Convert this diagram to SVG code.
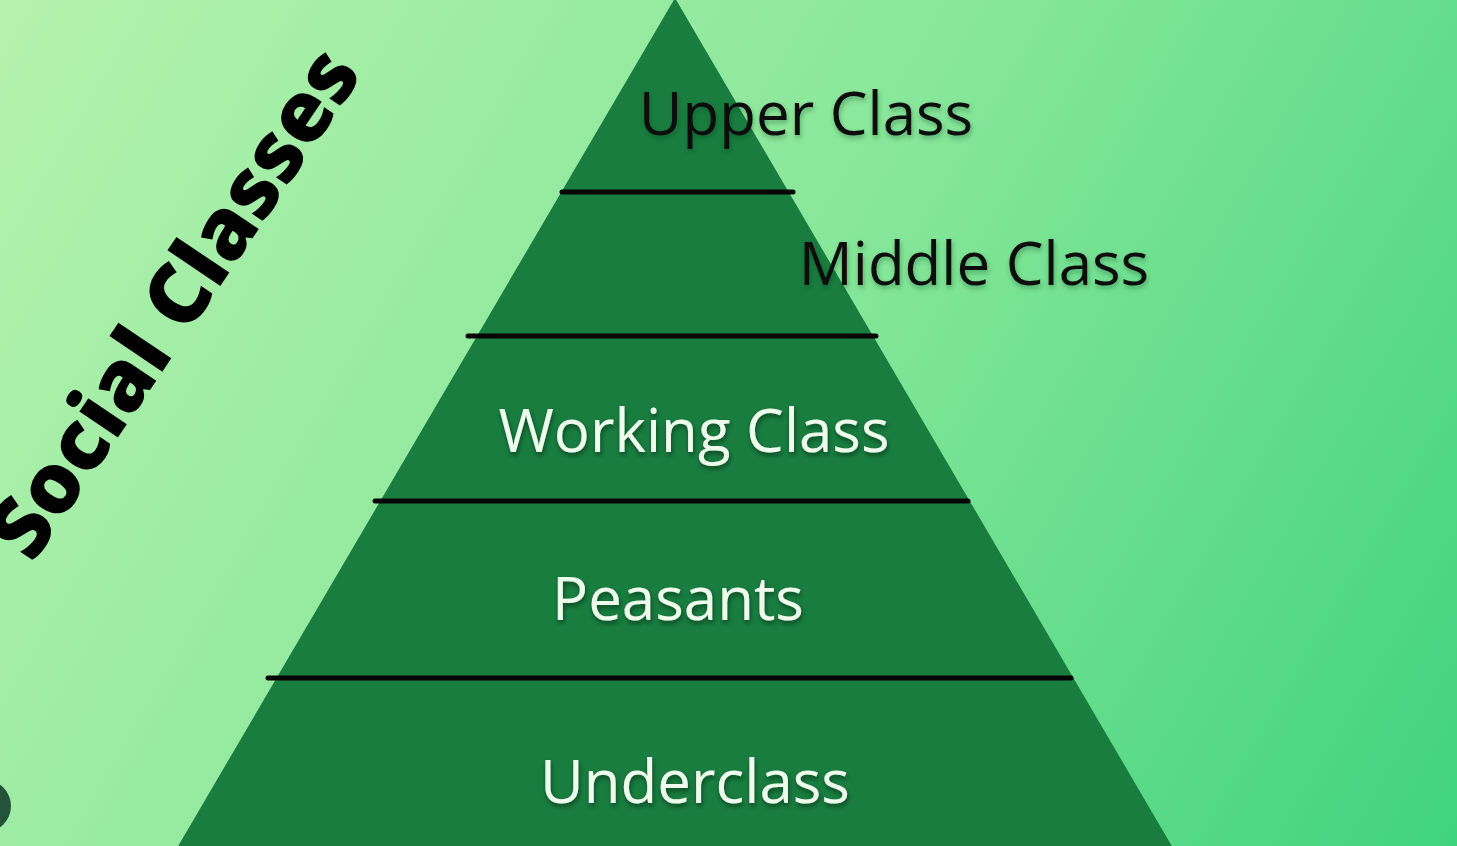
<svg xmlns="http://www.w3.org/2000/svg" width="1457" height="846" viewBox="0 0 1457 846">
  <defs>
    <linearGradient id="bg" x1="0" y1="0" x2="1457" y2="846" gradientUnits="userSpaceOnUse">
      <stop offset="0" stop-color="#b5f2ae"/>
      <stop offset="0.5" stop-color="#88e79a"/>
      <stop offset="1" stop-color="#40d37e"/>
    </linearGradient>
    <filter id="darkShadow" x="-10%" y="-30%" width="120%" height="160%">
      <feDropShadow dx="1" dy="3" stdDeviation="2.5" flood-color="#000" flood-opacity="0.45"/>
    </filter>
    <filter id="lightShadow" x="-10%" y="-30%" width="120%" height="160%">
      <feDropShadow dx="1" dy="3" stdDeviation="2.5" flood-color="#0b3a1a" flood-opacity="0.35"/>
    </filter>
  </defs>
  <style>
    .tier { fill: #187d3f; }
    .divider { stroke: #050505; stroke-width: 5; stroke-linecap: round; }
    .label { font-family: "Open Sans", "Noto Sans", "Liberation Sans", sans-serif; font-size: 60px; text-anchor: middle; }
    .light { fill: #eefcec; filter: url(#darkShadow); }
    .dark { fill: #0a0f0b; filter: url(#lightShadow); }
    .title { font-family: "Open Sans", "Noto Sans", "Liberation Sans", sans-serif; font-weight: 800; font-size: 84px; fill: #000; text-anchor: middle; }
  </style>

  <rect width="1457" height="846" fill="url(#bg)"/>

  <!-- pyramid body -->
  <g id="pyramid">
    <polygon class="tier" points="675,-2 1173,848 177,848"/>
  </g>

  <!-- tier dividers -->
  <g id="connectors">
    <line class="divider" x1="562" y1="192" x2="793" y2="192"/>
    <line class="divider" x1="468" y1="336" x2="876" y2="336"/>
    <line class="divider" x1="375" y1="501" x2="968" y2="501"/>
    <line class="divider" x1="268" y1="678" x2="1071" y2="678"/>
  </g>

  <g id="upper-class">
    <text class="label dark" x="806" y="135">Upper Class</text>
  </g>
  <g id="middle-class">
    <text class="label dark" x="974" y="285">Middle Class</text>
  </g>
  <g id="working-class">
    <text class="label light" x="694" y="452">Working Class</text>
  </g>
  <g id="peasants">
    <text class="label light" x="678" y="620">Peasants</text>
  </g>
  <g id="underclass">
    <text class="label light" x="695" y="803">Underclass</text>
  </g>

  <g id="title">
    <text class="title" transform="translate(198,319) rotate(-56)">Social Classes</text>
  </g>

  <!-- round badge at the lower left edge -->
  <circle cx="-15" cy="806" r="26" fill="#24523a"/>
</svg>
